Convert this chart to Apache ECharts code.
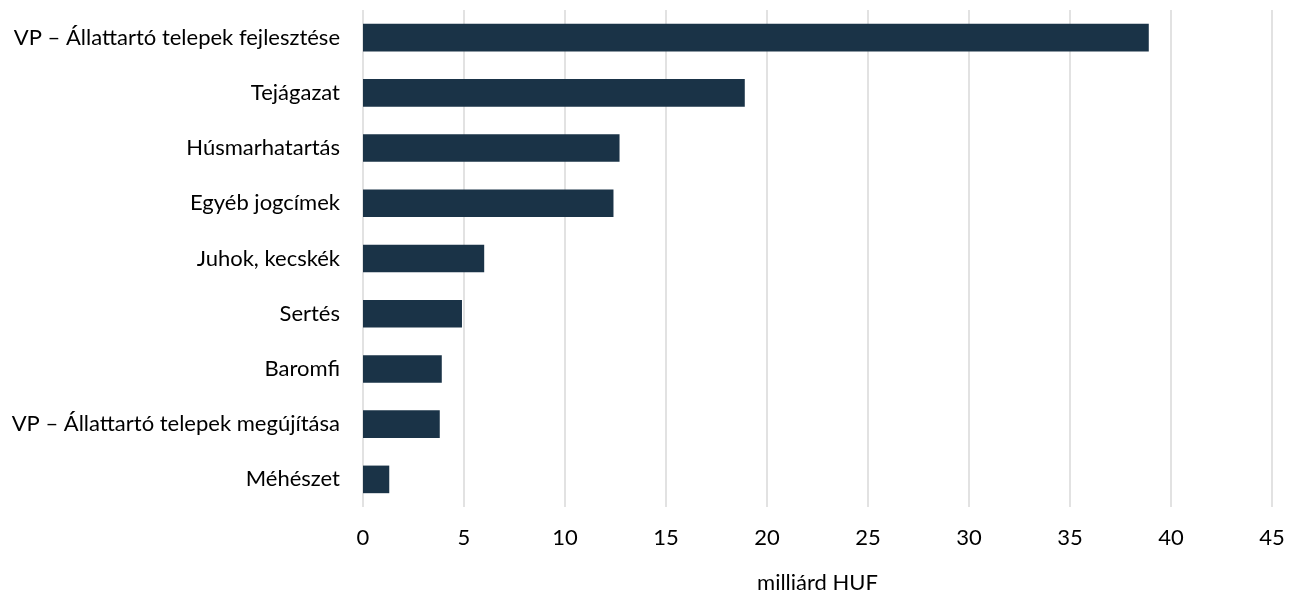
<!DOCTYPE html>
<html>
<head>
<meta charset="utf-8">
<script src="https://cdn.jsdelivr.net/npm/echarts@6/dist/echarts.min.js"></script>
<style>
html,body{margin:0;padding:0;background:#fff;}
#chart{width:1292px;height:599px;}
</style>
</head>
<body>
<div id="chart"></div>
<script>
const categories = [
  "VP – Állattartó telepek fejlesztése",
  "Tejágazat",
  "Húsmarhatartás",
  "Egyéb jogcímek",
  "Juhok, kecskék",
  "Sertés",
  "Baromfi",
  "VP – Állattartó telepek megújítása",
  "Méhészet"
];
const values = [38.9, 18.9, 12.7, 12.4, 6.0, 4.9, 3.9, 3.8, 1.3];
const axisName = "milliárd HUF";

const chart = echarts.init(document.getElementById('chart'), null, {renderer: 'canvas'});
const font = 'Lato, "Open Sans", sans-serif';
chart.setOption({
  animation: false,
  backgroundColor: '#ffffff',
  grid: {left: 363, right: 20, top: 10, bottom: 92, containLabel: false},
  xAxis: {
    type: 'value',
    min: 0, max: 45, interval: 5,
    name: axisName,
    nameLocation: 'middle',
    nameGap: 65,
    nameTextStyle: {fontFamily: font, fontSize: 22, color: '#000'},
    axisLine: {show: false},
    axisTick: {show: false},
    axisLabel: {fontFamily: font, fontSize: 22, color: '#000', margin: 20},
    splitLine: {show: true, lineStyle: {color: '#d9d9d9', width: 1.5}}
  },
  yAxis: {
    type: 'category',
    data: categories,
    inverse: true,
    axisLine: {show: false},
    axisTick: {show: false},
    axisLabel: {fontFamily: font, fontSize: 22, color: '#000', margin: 23}
  },
  series: [{
    type: 'bar',
    data: values,
    barCategoryGap: '50%',
    itemStyle: {color: '#1a3347'}
  }]
});
</script>
</body>
</html>
